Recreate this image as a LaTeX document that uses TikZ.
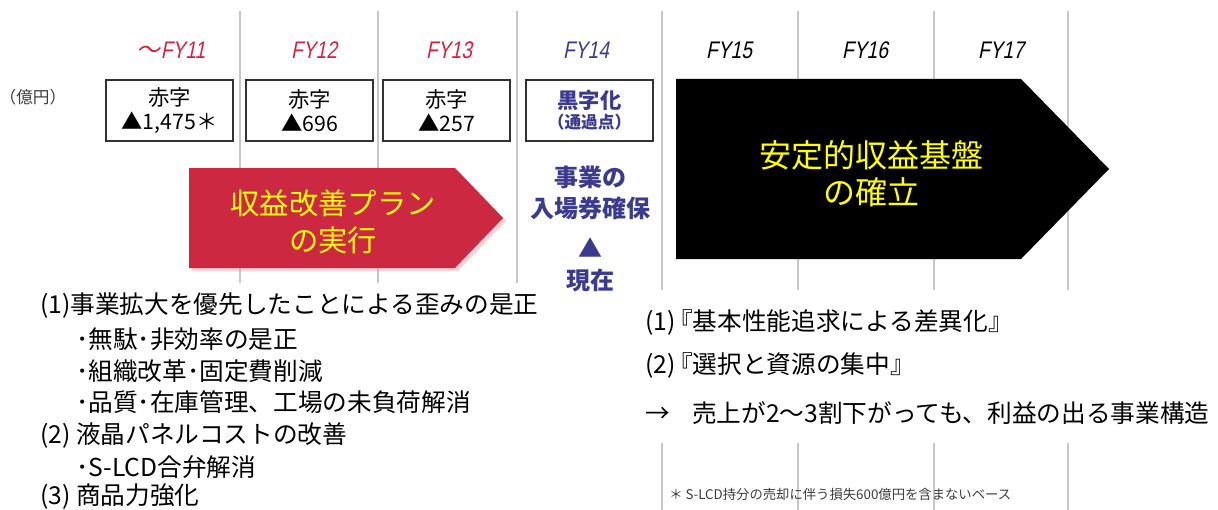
\documentclass[tikz,border=0pt]{standalone}
\usepackage{fontspec}
\setmainfont{Noto Sans CJK JP}
\newfontfamily\fyfont[FakeStretch=0.8,FakeSlant=0.2]{Liberation Sans}
\newfontfamily\fyjp[FakeSlant=0.2]{Noto Sans CJK JP}
\definecolor{fyred}{RGB}{210,35,65}
\definecolor{navy}{RGB}{58,58,145}
\definecolor{plan}{RGB}{205,40,65}
\definecolor{gridc}{RGB}{200,200,200}
\definecolor{yel}{RGB}{255,255,0}
\definecolor{note}{RGB}{60,60,60}
\begin{document}
\begin{tikzpicture}[x=0.75pt,y=-0.75pt,
  gridline/.style={draw=gridc,line width=0.8pt},
  fylabel/.style={font=\fyfont\fontsize{18}{20}\selectfont,inner sep=0pt},
  valbox/.style={draw=black!80,line width=0.9pt,fill=white,minimum width=95.25pt,minimum height=45.75pt,align=center,inner sep=0pt,font=\fontsize{16}{18}\selectfont},
  bluetxt/.style={text=navy,font=\bfseries\fontsize{18}{23.25}\selectfont,align=center,inner sep=0pt},
  listtxt/.style={anchor=west,inner sep=0pt,font=\fontsize{18.5}{20}\selectfont},
  bigtxt/.style={text=yel,align=center,inner sep=0pt}
]
\useasboundingbox (0,0) rectangle (1218,510);
% grid lines
\foreach \x in {240,378,517} \draw[gridline] (\x,11) -- (\x,283);
\foreach \x in {662,798,934,1068} {
  \draw[gridline] (\x,11) -- (\x,290);
  \draw[gridline] (\x,443) -- (\x,510);
}
% FY labels
\node[fylabel,text=fyred] (fy11) at (171,50) {{\fyjp\fontsize{18}{20}\selectfont ～}FY11};
\node[fylabel,text=fyred] (fy12) at (314,50) {FY12};
\node[fylabel,text=fyred] (fy13) at (449,50) {FY13};
\node[fylabel,text=navy] (fy14) at (586,50) {FY14};
\node[fylabel] (fy15) at (729,50) {FY15};
\node[fylabel] (fy16) at (865,50) {FY16};
\node[fylabel] (fy17) at (1001,50) {FY17};
% unit
\node[text=note,font=\fontsize{12.5}{14}\selectfont,inner sep=0pt] (unit) at (33,97) {（億円）};
% value boxes
\node[valbox] (b11) at (169.5,110.5) {赤字\\▲1,475＊};
\node[valbox] (b12) at (309.5,110.5) {赤字\\▲696};
\node[valbox] (b13) at (446.5,110.5) {赤字\\▲257};
\node[valbox,text=navy,font=\bfseries\fontsize{16}{18}\selectfont] (b14) at (589.5,110.5) {黒字化\\[-3pt]{\fontsize{12.5}{14}\selectfont （通過点）}};
% red arrow
\fill[plan!45!white,opacity=0.45] (192,171) -- (458,171) -- (506,221) -- (458,271) -- (192,271) -- cycle;
\fill[plan] (189,168) -- (455,168) -- (503,218) -- (455,268) -- (189,268) -- cycle;
\node[bigtxt,font=\fontsize{22}{27.75}\selectfont] (plantxt) at (333,221.5) {収益改善プラン\\の実行};
% black arrow
\fill[black] (676,79) -- (1021,79) -- (1109,169) -- (1021,259) -- (676,259) -- cycle;
\node[bigtxt,font=\fontsize{24}{27.75}\selectfont] (basetxt) at (871,173.5) {安定的収益基盤\\の確立};
% FY14 column texts
\node[bluetxt] (ticket) at (590,192.5) {事業の\\入場券確保};
\node[bluetxt] (nowmark) at (590,248) {▲};
\node[bluetxt] (now) at (590,280) {現在};
% left list
\node[listtxt] (l1) at (40,306) {(1)事業拡大を優先したことによる歪みの是正};
\node[listtxt] (l2) at (76,339) {･無駄･非効率の是正};
\node[listtxt] (l3) at (76,371) {･組織改革･固定費削減};
\node[listtxt] (l4) at (76,402) {･品質･在庫管理、工場の未負荷解消};
\node[listtxt] (l5) at (40,436) {(2) 液晶パネルコストの改善};
\node[listtxt] (l6) at (76,467) {･S-LCD合弁解消};
\node[listtxt] (l7) at (40,497) {(3) 商品力強化};
% right list
\node[listtxt] (r1) at (645,322) {(1)\hspace{-0.3em}『基本性能追求による差異化』};
\node[listtxt] (r2) at (645,365) {(2)\hspace{-0.3em}『選択と資源の集中』};
\node[listtxt] (r3) at (645,413) {→\hspace{0.9em}売上が2～3割下がっても、利益の出る事業構造};
% footnote
\node[anchor=west,inner sep=0pt,text=note,font=\fontsize{10}{11}\selectfont] (foot) at (669,494) {＊ S-LCD持分の売却に伴う損失600億円を含まないベース};
\end{tikzpicture}
\end{document}
